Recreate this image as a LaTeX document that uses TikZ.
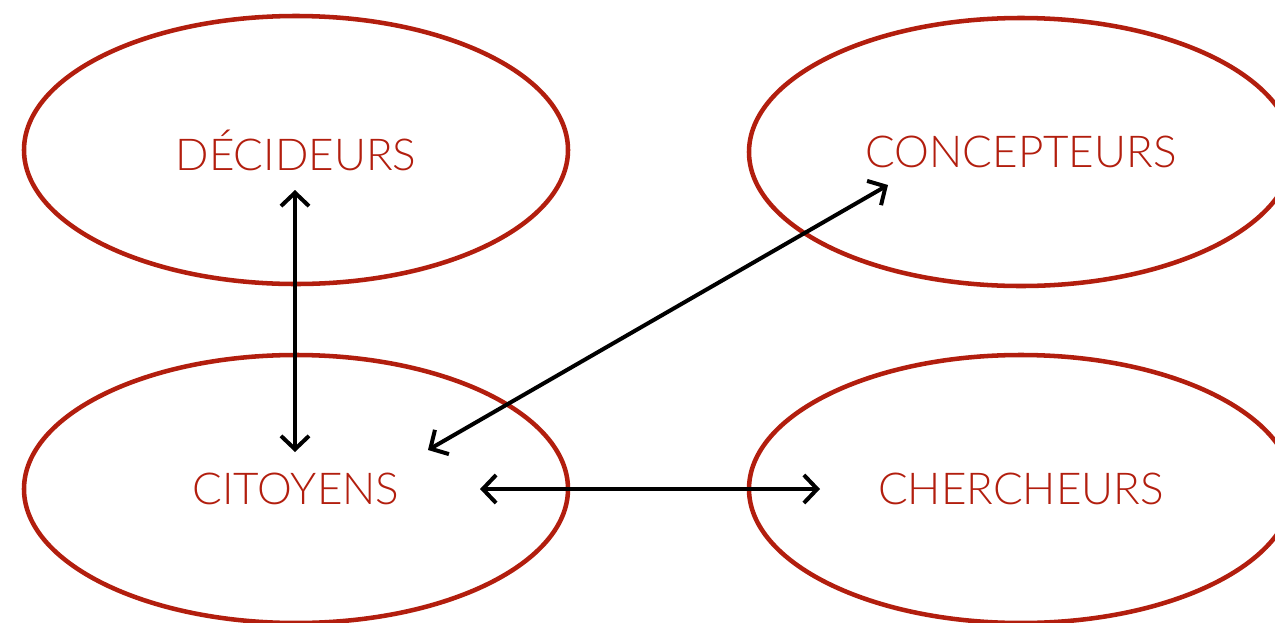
\documentclass[tikz,border=0pt]{standalone}
\usepackage{fontspec}
\setmainfont{Lato}[UprightFont=* Light]
\usepackage{tikz}
\usetikzlibrary{arrows.meta,shapes.geometric}

\definecolor{grpred}{RGB}{178,30,14}

\tikzset{
  group/.style={ellipse,draw=grpred,line width=3.4pt,minimum width=408pt,minimum height=201pt,
    text=grpred,font=\fontsize{33}{38}\selectfont,inner sep=0pt},
  link/.style={line width=3pt,{Straight Barb[length=10pt,width=21pt,line width=3pt]}-{Straight Barb[length=10pt,width=21pt,line width=3pt]}}
}

\begin{document}
\begin{tikzpicture}[x=0.75pt,y=0.75pt,yscale=-1,xscale=1]
\useasboundingbox (0,0) rectangle (1275,622);

% Groups
\node[group] (dec) at (296,150) {DÉCIDEURS};
\node[group] (con) at (1021,152) {CONCEPTEURS};
\node[group] (cit) at (296,489) {CITOYENS};
\node[group] (che) at (1021,489) {CHERCHEURS};

% Arrow ends
\coordinate (decS) at (295,190);
\coordinate (citN) at (295,452);
\coordinate (citE) at (428,450);
\coordinate (conW) at (888,185);
\coordinate (citR) at (480,489);
\coordinate (cheL) at (820,489);

% Links
\draw[link] (decS) -- (citN);
\draw[link] (citE) -- (conW);
\draw[link] (citR) -- (cheL);

\end{tikzpicture}
\end{document}
